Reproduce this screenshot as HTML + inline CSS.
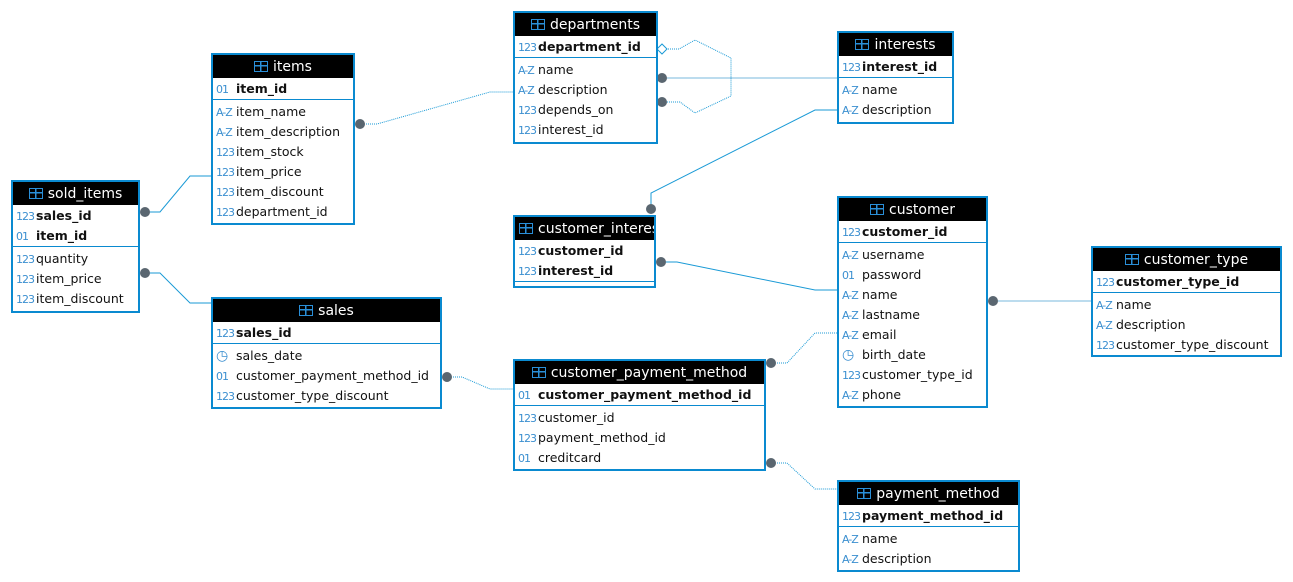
<!DOCTYPE html>
<html><head><meta charset="utf-8"><style>
body{margin:0;width:1293px;height:582px;background:#fff;position:relative;overflow:hidden;font-family:"DejaVu Sans","Liberation Sans",sans-serif}
.t{position:absolute;box-sizing:border-box;border:2px solid #0a8ad0;background:#fff;font-size:12.5px;color:#111;overflow:hidden}
.h{background:#000;color:#fff;height:23px;line-height:24px;text-align:center;font-size:14px;white-space:nowrap}
.h i{display:inline-block;width:12px;height:9px;border:1.5px solid #2a8fd8;margin-right:5px;vertical-align:-1px;background:linear-gradient(#2a8fd8,#2a8fd8) 0 3px/100% 1.5px no-repeat,linear-gradient(#2a8fd8,#2a8fd8) 5px 0/1.5px 100% no-repeat}
.k{padding:0 0 1px;border-bottom:1px solid #0a8ad0}
.k .r{font-weight:bold}
.a{padding:1px 0}
.r{height:20px;line-height:22px;padding-left:3px;white-space:nowrap}
.r b{display:inline-block;width:20px;font-weight:normal;font-size:11px;color:#3b8fd0;letter-spacing:-1px}
svg{position:absolute;left:0;top:0}
</style></head><body>
<svg width="1293" height="582">
<g fill="none" stroke="#1a9ad6" stroke-width="1">
<path d="M354 124H377L490 92H513" stroke-dasharray="1,1"/>
<path d="M145 212H160L190 176H211"/>
<path d="M145 273H160L190 303H211"/>
<path d="M668 49H679L695 40L731 58V96L695 113L680 102H662" stroke-dasharray="1,1"/>
<path d="M662 78H837" stroke="#7ab8dc"/>
<path d="M651 209V193L815 110H837"/>
<path d="M661 262H677L815 290H837"/>
<path d="M993 301H1091" stroke="#7ab8dc"/>
<path d="M771 363H787L815 333H837" stroke-dasharray="1,1"/>
<path d="M447 377H462L490 389H513" stroke-dasharray="1,1"/>
<path d="M771 463H787L815 489H837" stroke-dasharray="1,1"/>
</g>
<g fill="#5a6670">
<circle cx="360" cy="124" r="5"/><circle cx="145" cy="212" r="5"/><circle cx="145" cy="273" r="5"/>
<circle cx="662" cy="78" r="5"/><circle cx="662" cy="102" r="5"/><circle cx="651" cy="209" r="5"/>
<circle cx="661" cy="262" r="5"/><circle cx="993" cy="301" r="5"/><circle cx="771" cy="363" r="5"/>
<circle cx="447" cy="377" r="5"/><circle cx="771" cy="463" r="5"/>
</g>
<path d="M657 49L662 44L667 49L662 54Z" fill="#fff" stroke="#1a9ad6"/>
</svg>

<div class="t" style="left:211px;top:53px;width:144px;height:172px"><div class="h"><i></i>items</div>
<div class="k"><div class="r"><b>01</b>item_id</div></div>
<div class="a"><div class="r"><b>A-Z</b>item_name</div><div class="r"><b>A-Z</b>item_description</div><div class="r"><b>123</b>item_stock</div><div class="r"><b>123</b>item_price</div><div class="r"><b>123</b>item_discount</div><div class="r"><b>123</b>department_id</div></div></div>

<div class="t" style="left:11px;top:180px;width:129px;height:133px"><div class="h"><i></i>sold_items</div>
<div class="k"><div class="r"><b>123</b>sales_id</div><div class="r"><b>01</b>item_id</div></div>
<div class="a"><div class="r"><b>123</b>quantity</div><div class="r"><b>123</b>item_price</div><div class="r"><b>123</b>item_discount</div></div></div>

<div class="t" style="left:513px;top:11px;width:145px;height:133px"><div class="h"><i></i>departments</div>
<div class="k"><div class="r"><b>123</b>department_id</div></div>
<div class="a"><div class="r"><b>A-Z</b>name</div><div class="r"><b>A-Z</b>description</div><div class="r"><b>123</b>depends_on</div><div class="r"><b>123</b>interest_id</div></div></div>

<div class="t" style="left:837px;top:31px;width:117px;height:93px"><div class="h"><i></i>interests</div>
<div class="k"><div class="r"><b>123</b>interest_id</div></div>
<div class="a"><div class="r"><b>A-Z</b>name</div><div class="r"><b>A-Z</b>description</div></div></div>

<div class="t" style="left:513px;top:215px;width:143px;height:73px"><div class="h" style="text-align:left;padding-left:4px"><i></i>customer_interest</div>
<div class="k"><div class="r"><b>123</b>customer_id</div><div class="r"><b>123</b>interest_id</div></div></div>

<div class="t" style="left:837px;top:196px;width:151px;height:212px"><div class="h"><i></i>customer</div>
<div class="k"><div class="r"><b>123</b>customer_id</div></div>
<div class="a"><div class="r"><b>A-Z</b>username</div><div class="r"><b>01</b>password</div><div class="r"><b>A-Z</b>name</div><div class="r"><b>A-Z</b>lastname</div><div class="r"><b>A-Z</b>email</div><div class="r"><b style="font-size:14px">◷</b>birth_date</div><div class="r"><b>123</b>customer_type_id</div><div class="r"><b>A-Z</b>phone</div></div></div>

<div class="t" style="left:1091px;top:246px;width:191px;height:111px"><div class="h"><i></i>customer_type</div>
<div class="k"><div class="r"><b>123</b>customer_type_id</div></div>
<div class="a"><div class="r"><b>A-Z</b>name</div><div class="r"><b>A-Z</b>description</div><div class="r"><b>123</b>customer_type_discount</div></div></div>

<div class="t" style="left:211px;top:297px;width:231px;height:112px"><div class="h"><i></i>sales</div>
<div class="k"><div class="r"><b>123</b>sales_id</div></div>
<div class="a"><div class="r"><b style="font-size:14px">◷</b>sales_date</div><div class="r"><b>01</b>customer_payment_method_id</div><div class="r"><b>123</b>customer_type_discount</div></div></div>

<div class="t" style="left:513px;top:359px;width:253px;height:112px"><div class="h"><i></i>customer_payment_method</div>
<div class="k"><div class="r"><b>01</b>customer_payment_method_id</div></div>
<div class="a"><div class="r"><b>123</b>customer_id</div><div class="r"><b>123</b>payment_method_id</div><div class="r"><b>01</b>creditcard</div></div></div>

<div class="t" style="left:837px;top:480px;width:183px;height:92px"><div class="h"><i></i>payment_method</div>
<div class="k"><div class="r"><b>123</b>payment_method_id</div></div>
<div class="a"><div class="r"><b>A-Z</b>name</div><div class="r"><b>A-Z</b>description</div></div></div>
</body></html>
